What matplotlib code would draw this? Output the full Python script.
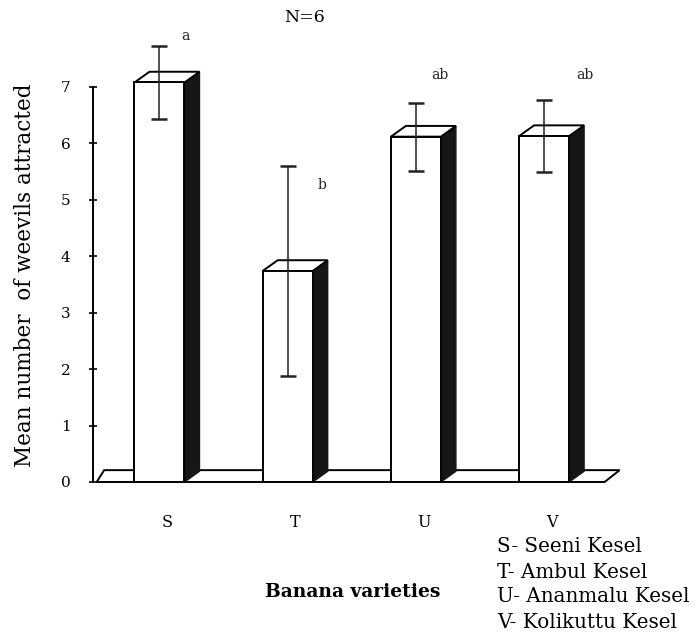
import matplotlib
matplotlib.use("Agg")
import matplotlib.pyplot as plt
from matplotlib.patches import Polygon, Rectangle

# ---- data ----
categories = ["S", "T", "U", "V"]
means = [7.08, 3.74, 6.12, 6.13]
errors = [0.65, 1.86, 0.60, 0.64]
sig_letters = ["a", "b", "ab", "ab"]
legend_lines = ["S- Seeni Kesel", "T- Ambul Kesel", "U- Ananmalu Kesel", "V- Kolikuttu Kesel"]
yticks = [0, 1, 2, 3, 4, 5, 6, 7]

# ---- style / layout ----
SERIF = ["DejaVu Serif"]
bar_w = 0.39
dx, dy = 0.117, 0.19
floor_dy = 0.21
dark = "#161616"
letter_offsets = [(0.20, 0.82), (0.27, 1.52), (0.19, 1.09), (0.32, 1.08)]

fig = plt.figure(figsize=(7.0, 6.4), dpi=100)
ax = fig.add_axes([80 / 700, 140 / 640, 580 / 700, 480 / 640])
ax.set_xlim(-0.62, 3.904)
ax.set_ylim(-0.319, 8.187)

x = list(range(len(categories)))

# floor
x0 = -0.49
x1 = x[-1] + bar_w / 2 + dx + 0.16
floor = Polygon([(x0, 0), (x1, 0), (x1 + dx, floor_dy), (x0 + dx * 0.5, floor_dy)],
                closed=True, facecolor="white", edgecolor="black", lw=1.4, zorder=1)
ax.add_patch(floor)

# bars
for xi, h in zip(x, means):
    l, r = xi - bar_w / 2, xi + bar_w / 2
    side = Polygon([(r, 0), (r + dx, dy), (r + dx, h + dy), (r, h)], closed=True,
                   facecolor=dark, edgecolor=dark, lw=1.0, zorder=2)
    top = Polygon([(l, h), (r, h), (r + dx, h + dy), (l + dx, h + dy)], closed=True,
                  facecolor="white", edgecolor="black", lw=1.4, zorder=3)
    front = Rectangle((l, 0), bar_w, h, facecolor="white", edgecolor="black", lw=1.4, zorder=3)
    ax.add_patch(side)
    ax.add_patch(top)
    ax.add_patch(front)

# error bars
ax.errorbar(x, means, yerr=errors, fmt="none", ecolor="#222222", elinewidth=1.1,
            capsize=6, capthick=1.8, zorder=6)

# significance letters
for xi, m, e, lab, (ox, oy) in zip(x, means, errors, sig_letters, letter_offsets):
    ax.text(xi + ox, m + oy, lab, family=SERIF, fontsize=10, ha="center", va="center", color="#222222")

# axes styling
for s in ["top", "right", "bottom"]:
    ax.spines[s].set_visible(False)
ax.spines["left"].set_position(("data", -0.519))
ax.spines["left"].set_bounds(0, 7)
ax.spines["left"].set_linewidth(1.4)
ax.set_yticks(yticks)
ax.set_yticklabels([str(t) for t in yticks], family=SERIF, fontsize=11)
ax.tick_params(axis="y", direction="inout", length=6, width=1.2, pad=13)
ax.set_xticks([xi + 0.06 for xi in x])
ax.set_xticklabels(categories, family=SERIF, fontsize=11.5)
ax.tick_params(axis="x", length=0, pad=10)

# titles / labels
fig.text(305 / 700, 1 - 17 / 640, "N=6", family=SERIF, fontsize=12.5, ha="center", va="center")
fig.text(25 / 700, 1 - 275 / 640, "Mean number  of weevils attracted", family=SERIF,
         fontsize=15.5, rotation=90, ha="center", va="center")
fig.text(353 / 700, 1 - 592 / 640, "Banana varieties", family=SERIF, fontsize=13.5,
         fontweight="bold", ha="center", va="center")
for k, line in enumerate(legend_lines):
    fig.text(497 / 700, 1 - (547 + 25 * k) / 640, line, family=SERIF, fontsize=14.3,
             ha="left", va="center")

fig.savefig("out.png", dpi=100, facecolor="white")
